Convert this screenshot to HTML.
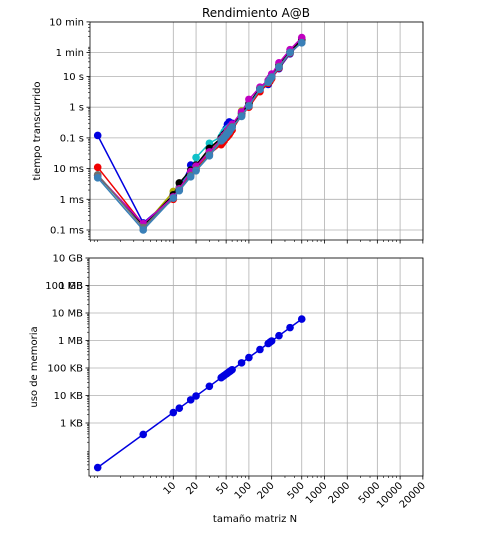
<!DOCTYPE html>
<html><head><meta charset="utf-8"><style>
body{margin:0;background:#fff}
svg{display:block;font-family:"DejaVu Sans","Liberation Sans",sans-serif}
</style></head><body>
<svg id="c" width="488" height="536" viewBox="0 0 488 536" xmlns="http://www.w3.org/2000/svg"></svg>
<script>
const sizes=[1,4,10,12,17,20,30,43,45,47,50,52,55,57,60,80,100,140,180,190,200,250,350,500];
const memBytes=[24,384,2400,3456,6936,9600,21600,44376,48600,53016,60000,64896,72600,77976,86400,153600,240000,470400,777600,866400,960000,1500000,2940000,6000000];
const seriesNames=['blue','red','olive','cyan','black','magenta','gray','steel'];
const seriesColors=['#0000e0','#f00000','#b0b000','#10c0c8','#000000','#c000c0','#707070','#3a80b8'];
const tBlue=[0.12,0.00017,0.0012,0.0022,0.013,0.012,0.035,0.1,0.12,0.15,0.2,0.28,0.33,0.3,0.3,0.6,1.2,3.5,5.5,7,9,18,55,140];
const tRed=[0.011,0.00015,0.001,0.0021,0.007,0.01,0.03,0.06,0.07,0.08,0.1,0.11,0.13,0.15,0.18,0.55,1.0,3.2,6,7,8.5,19,58,130];
const tOlive=[0.006,0.00013,0.0018,0.0025,0.008,0.012,0.04,0.09,0.1,0.12,0.15,0.17,0.2,0.22,0.25,0.75,1.3,4,6.5,8,10,22,60,150];
const tCyan=[0.006,0.00013,0.0013,0.0024,0.009,0.023,0.067,0.11,0.13,0.16,0.18,0.2,0.22,0.24,0.27,0.6,1.3,4.2,7,8.5,10,24,65,160];
const tBlack=[0.006,0.00014,0.0014,0.0034,0.009,0.013,0.046,0.1,0.11,0.13,0.15,0.17,0.19,0.22,0.25,0.65,1.3,4.2,7,8.5,10,24,65,160];
const tMagenta=[0.006,0.00016,0.0012,0.0022,0.008,0.012,0.035,0.09,0.1,0.12,0.14,0.17,0.2,0.23,0.28,0.7,1.8,4.5,7.5,9,12,28,75,185];
const tGray=[0.0063,0.00012,0.0011,0.002,0.006,0.009,0.028,0.085,0.095,0.11,0.13,0.15,0.17,0.2,0.23,0.52,1.1,3.9,6.6,8,9.6,21,61,128];
const tSteel=[0.005,0.0001,0.0011,0.0019,0.0054,0.0085,0.026,0.08,0.09,0.1,0.12,0.14,0.16,0.19,0.22,0.5,1.1,3.8,6.5,8,9.5,20,60,125];
const seriesVals=[tBlue,tRed,tOlive,tCyan,tBlack,tMagenta,tGray,tSteel];
const xTicks=[10,20,50,100,200,500,1000,2000,5000,10000,20000];
const tTickVals=[600,60,10,1,0.1,0.01,0.001,0.0001];
const tTickLabels=['10 min','1 min','10 s','1 s','0.1 s','10 ms','1 ms','0.1 ms'];
const mTickVals=[1e9,1e8,1e8,1e7,1e6,1e5,1e4,1e3];
const mTickLabels=['10 GB','1 GB','100 MB','10 MB','1 MB','100 KB','10 KB','1 KB'];

const NS='http://www.w3.org/2000/svg';
const svg=document.getElementById('c');
function mk(tag,attrs,parent){const e=document.createElementNS(NS,tag);for(const k in attrs)e.setAttribute(k,attrs[k]);(parent||svg).appendChild(e);return e;}
const X=n=>173.3+75.6*(Math.log10(n)-1);
const YT=s=>230-30.7*(Math.log10(s)+4);
const YM=b=>423-27.5*(Math.log10(b)-3);
const P1={l:90,r:423,t:22,b:240}, P2={l:89,r:423,t:258,b:476};

function axes(P,Y,tv,tl,name,showX){
  const g=mk('g',{});
  
  
  xTicks.forEach(v=>{const x=X(v);mk('line',{x1:x,x2:x,y1:P.t,y2:P.b,stroke:'#b0b0b0','stroke-width':0.8},g);mk('line',{x1:x,x2:x,y1:P.b,y2:P.b+3.5,stroke:'#000','stroke-width':0.8},g);
    if(showX){const t=mk('text',{x:x+3,y:P.b+10,'font-size':10,'text-anchor':'end',transform:`rotate(-45 ${x+3} ${P.b+10})`},g);t.textContent=v;
      
      }});
  for(let k=-1;k<=4;k++)for(let m=1;m<10;m++){const v=m*Math.pow(10,k);const x=X(v);if(x<P.l||x>P.r||xTicks.includes(v))continue;mk('line',{x1:x,x2:x,y1:P.b,y2:P.b+2,stroke:'#000','stroke-width':0.6},g);}
  tv.forEach((v,i)=>{const y=Y(v);mk('line',{x1:P.l,x2:P.r,y1:y,y2:y,stroke:'#b0b0b0','stroke-width':0.8},g);mk('line',{x1:P.l-3.5,x2:P.l,y1:y,y2:y,stroke:'#000','stroke-width':0.8},g);
    const t=mk('text',{x:P.l-6,y:y+3.5,'font-size':10,'text-anchor':'end'},g);t.textContent=tl[i];
    
    });
  for(let k=-6;k<=12;k++)for(let m=2;m<10;m++){const y=Y(m*Math.pow(10,k));if(y<P.t||y>P.b)continue;mk('line',{x1:P.l-2,x2:P.l,y1:y,y2:y,stroke:'#000','stroke-width':0.6},g);}
  mk('rect',{x:P.l,y:P.t,width:P.r-P.l,height:P.b-P.t,fill:'none',stroke:'#000','stroke-width':0.8},g);
}
axes(P1,YT,tTickVals,tTickLabels,'time',false);
axes(P2,YM,mTickVals,mTickLabels,'memory',true);

seriesVals.forEach((vals,si)=>{
  const g=mk('g',{});
  
  
  const pts=sizes.map((n,i)=>X(n).toFixed(1)+','+YT(vals[i]).toFixed(1)).join(' ');
  mk('polyline',{points:pts,fill:'none',stroke:seriesColors[si],'stroke-width':1.5},g);
  sizes.forEach((n,i)=>{const c=mk('circle',{cx:X(n),cy:YT(vals[i]),r:3.8,fill:seriesColors[si]},g);
    
    });
});
{const g=mk('g',{});


mk('polyline',{points:sizes.map((n,i)=>X(n).toFixed(1)+','+YM(memBytes[i]).toFixed(1)).join(' '),fill:'none',stroke:'#0000e0','stroke-width':1.5},g);
sizes.forEach((n,i)=>{const c=mk('circle',{cx:X(n),cy:YM(memBytes[i]),r:3.8,fill:'#0000e0'},g);
  
  });}

function txt(s,a,name){const t=mk('text',a);t.textContent=s;}
txt('Rendimiento A@B',{x:256,y:17,'font-size':12,'text-anchor':'middle'},'chart-title');
txt('tiempo transcurrido',{x:40,y:131,'font-size':10,'text-anchor':'middle',transform:'rotate(-90 40 131)'},'time-y-axis-title');
txt('uso de memoria',{x:37,y:367,'font-size':10,'text-anchor':'middle',transform:'rotate(-90 37 367)'},'memory-y-axis-title');
txt('tamaño matriz N',{x:255,y:522,'font-size':10,'text-anchor':'middle'},'x-axis-title');
</script>
</body></html>
